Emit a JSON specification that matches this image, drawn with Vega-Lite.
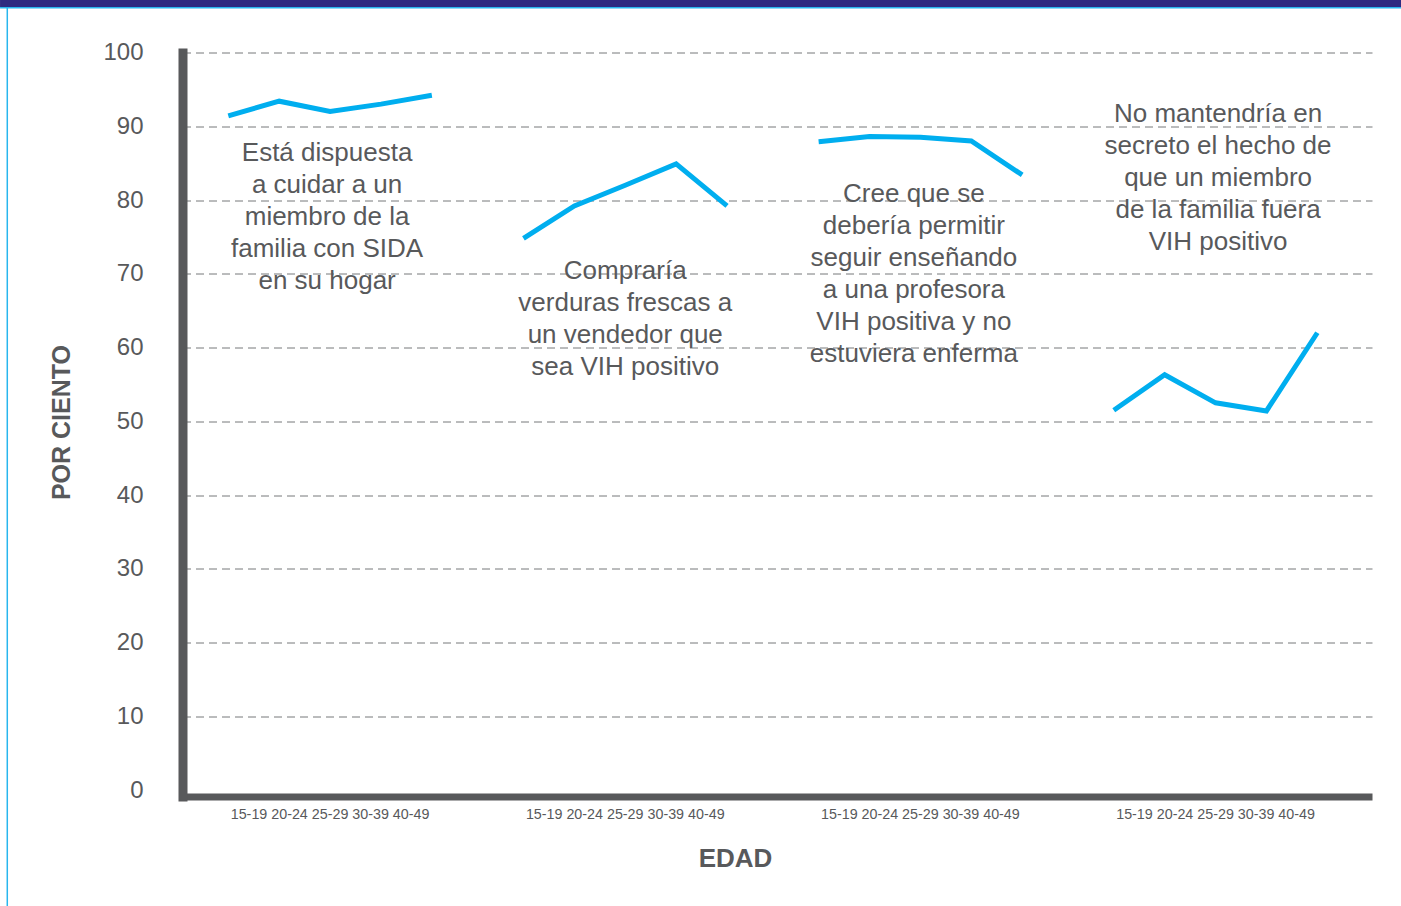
{
  "$schema": "https://vega.github.io/schema/vega-lite/v6.json",
  "width": 1189.5,
  "height": 744,
  "autosize": {"type": "none"},
  "padding": {"left": 182.5, "top": 52.5, "right": 29, "bottom": 109.5},
  "background": "white",
  "config": {"view": {"stroke": null}, "font": "Liberation Sans"},
  "datasets": {
    "survey": [
      {"grupo": "Cuidar", "edad": "15-19", "pct": 91.4},
      {"grupo": "Cuidar", "edad": "20-24", "pct": 93.4},
      {"grupo": "Cuidar", "edad": "25-29", "pct": 92.0},
      {"grupo": "Cuidar", "edad": "30-39", "pct": 93.0},
      {"grupo": "Cuidar", "edad": "40-49", "pct": 94.2},
      {"grupo": "Comprar", "edad": "15-19", "pct": 74.8},
      {"grupo": "Comprar", "edad": "20-24", "pct": 79.2},
      {"grupo": "Comprar", "edad": "25-29", "pct": 82.0},
      {"grupo": "Comprar", "edad": "30-39", "pct": 84.9},
      {"grupo": "Comprar", "edad": "40-49", "pct": 79.2},
      {"grupo": "Profesora", "edad": "15-19", "pct": 87.9},
      {"grupo": "Profesora", "edad": "20-24", "pct": 88.6},
      {"grupo": "Profesora", "edad": "25-29", "pct": 88.5},
      {"grupo": "Profesora", "edad": "30-39", "pct": 88.0},
      {"grupo": "Profesora", "edad": "40-49", "pct": 83.4},
      {"grupo": "Secreto", "edad": "15-19", "pct": 51.5},
      {"grupo": "Secreto", "edad": "20-24", "pct": 56.3},
      {"grupo": "Secreto", "edad": "25-29", "pct": 52.5},
      {"grupo": "Secreto", "edad": "30-39", "pct": 51.4},
      {"grupo": "Secreto", "edad": "40-49", "pct": 62.0}
    ]
  },
  "resolve": {"scale": {"x": "independent", "y": "independent"}},
  "layer": [
    {
      "data": {"name": "survey"},
      "layer": [
        {
          "mark": {"type": "line", "color": "#00aeef", "strokeWidth": 5, "strokeJoin": "miter"},
          "encoding": {
            "x": {
              "field": "grupo",
              "type": "nominal",
              "bandPosition": 0,
              "scale": {"type": "band", "domain": ["Cuidar", "Comprar", "Profesora", "Secreto"], "paddingInner": 0, "paddingOuter": 0.015, "align": 0},
              "axis": {
                "orient": "bottom",
                "title": "EDAD",
                "labelExpr": "'15-19 20-24 25-29 30-39 40-49'",
                "labelAngle": 0,
                "labelLimit": 0,
                "ticks": false,
                "tickSize": 0,
                "labelPadding": 10.5,
                "labelBaseline": "top",
                "labelFontSize": 14.3,
                "labelColor": "#58595b",
                "labelFont": "Liberation Sans",
                "domainColor": "#58595b",
                "domainWidth": 7,
                "grid": false,
                "titleFontSize": 26,
                "titleFontWeight": "bold",
                "titleColor": "#58595b",
                "titleX": 552.5,
                "titleY": 69.5,
                "titleAlign": "center",
                "titleBaseline": "alphabetic"
              }
            },
            "xOffset": {
              "field": "edad",
              "type": "ordinal",
              "scale": {"type": "point", "padding": 0.9, "domain": ["15-19", "20-24", "25-29", "30-39", "40-49"]}
            },
            "y": {
              "field": "pct",
              "type": "quantitative",
              "scale": {"domain": [-0.88, 100], "nice": false, "zero": false},
              "axis": {
                "orient": "left",
                "title": "POR CIENTO",
                "values": [0, 10, 20, 30, 40, 50, 60, 70, 80, 90, 100],
                "ticks": false,
                "tickSize": 0,
                "labelPadding": 39.5,
                "labelFontSize": 24,
                "labelColor": "#58595b",
                "labelFont": "Liberation Sans",
                "domainColor": "#58595b",
                "domainWidth": 9,
                "domainCap": "square",
                "grid": true,
                "gridColor": "#77787b",
                "gridDash": [8, 5],
                "gridWidth": 1,
                "gridOpacity": {"condition": {"test": "datum.value === 0", "value": 0}, "value": 1},
                "titleFontSize": 25,
                "titleFontWeight": "bold",
                "titleColor": "#58595b",
                "titleAngle": -90,
                "titleX": -121.5,
                "titleY": 369.5,
                "titleAlign": "center",
                "titleBaseline": "middle"
              }
            },
            "detail": {"field": "grupo"},
            "order": {"field": "edad"}
          }
        },
        {
          "data": {"values": [{}]},
          "mark": {"type": "text", "text": ["Está dispuesta", "a cuidar a un", "miembro de la", "familia con SIDA", "en su hogar"], "fontSize": 26, "lineHeight": 32, "color": "#58595b", "align": "center", "baseline": "middle", "dx": -3},
          "encoding": {"x": {"datum": "Cuidar", "type": "nominal"}, "y": {"datum": 86.4, "type": "quantitative"}}
        },
        {
          "data": {"values": [{}]},
          "mark": {"type": "text", "text": ["Compraría", "verduras frescas a", "un vendedor que", "sea VIH positivo"], "fontSize": 26, "lineHeight": 32, "color": "#58595b", "align": "center", "baseline": "middle", "dx": 0},
          "encoding": {"x": {"datum": "Comprar", "type": "nominal"}, "y": {"datum": 70.4, "type": "quantitative"}}
        },
        {
          "data": {"values": [{}]},
          "mark": {"type": "text", "text": ["Cree que se", "debería permitir", "seguir enseñando", "a una profesora", "VIH positiva y no", "estuviera enferma"], "fontSize": 26, "lineHeight": 32, "color": "#58595b", "align": "center", "baseline": "middle", "dx": -6.5},
          "encoding": {"x": {"datum": "Profesora", "type": "nominal"}, "y": {"datum": 80.8, "type": "quantitative"}}
        },
        {
          "data": {"values": [{}]},
          "mark": {"type": "text", "text": ["No mantendría en", "secreto el hecho de", "que un miembro", "de la familia fuera", "VIH positivo"], "fontSize": 26, "lineHeight": 32, "color": "#58595b", "align": "center", "baseline": "middle", "dx": 2.5},
          "encoding": {"x": {"datum": "Secreto", "type": "nominal"}, "y": {"datum": 91.7, "type": "quantitative"}}
        }
      ]
    },
    {
      "data": {"values": [{}]},
      "layer": [
        {
          "mark": {"type": "rule", "color": "#2e2a80", "strokeWidth": 7, "strokeCap": "butt"},
          "encoding": {
            "x": {"datum": -0.1534, "type": "quantitative", "scale": {"domain": [0, 1], "nice": false}, "axis": null},
            "x2": {"datum": 1.0244},
            "y": {"datum": 1.0659, "type": "quantitative", "scale": {"domain": [0, 1], "nice": false}, "axis": null}
          }
        },
        {
          "mark": {"type": "rule", "color": "#29b6ee", "strokeWidth": 1.5, "strokeCap": "butt"},
          "encoding": {
            "x": {"datum": -0.1534, "type": "quantitative"},
            "x2": {"datum": 1.0244},
            "y": {"datum": 1.0601, "type": "quantitative"}
          }
        },
        {
          "mark": {"type": "rule", "color": "#29b6ee", "strokeWidth": 1.5, "strokeCap": "butt"},
          "encoding": {
            "x": {"datum": -0.1473, "type": "quantitative"},
            "y": {"datum": 1.061, "type": "quantitative"},
            "y2": {"datum": -0.148}
          }
        }
      ]
    }
  ]
}
